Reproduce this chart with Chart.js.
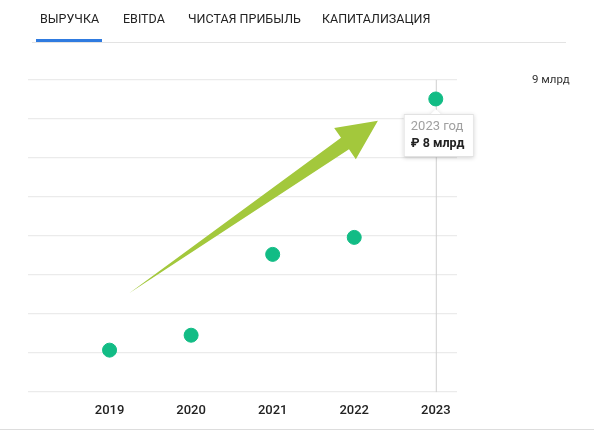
<!DOCTYPE html><html><head><meta charset="utf-8">
<script src="https://cdn.jsdelivr.net/npm/chart.js@4"></script>
<style>
body{margin:0;width:594px;height:436px;background:#fff;font-family:Roboto,sans-serif;overflow:hidden;position:relative}
.tabs{position:absolute;left:32px;top:0;width:534px;height:42px;border-bottom:1px solid #e3e3e3}
.tab{position:absolute;top:11px;font-size:12.5px;color:#222}
.ul{position:absolute;left:4px;top:39px;width:66px;height:3px;background:#2f7be0}
#wrap{position:absolute;left:0;top:-2px;width:594px;height:476px}
.bot{position:absolute;left:0;top:429px;width:594px;height:1px;background:#ddd}
</style></head><body>
<div id="wrap"><canvas id="c"></canvas></div>
<div class="tabs">
<span class="tab" style="left:8px">ВЫРУЧКА</span>
<span class="tab" style="left:91px">EBITDA</span>
<span class="tab" style="left:156px">ЧИСТАЯ ПРИБЫЛЬ</span>
<span class="tab" style="left:290px">КАПИТАЛИЗАЦИЯ</span>
<div class="ul"></div></div>
<div class="bot"></div>
<script>
const years=[2019,2020,2021,2022,2023];
const revenue=[1.21,1.64,3.97,4.46,8.45];
const yMax=9, yStep=1.125;
const tipYear=2023, tipLabel="2023 год", tipValue="₽ 8 млрд";
const arrowFrom=[2019.24,2.85], arrowTo=[2022.29,7.82];

const deco={id:'deco',
 beforeDatasetsDraw(ch){const{ctx,scales:{x,y}}=ch;
  const px=x.getPixelForValue(tipYear);
  ctx.save();ctx.strokeStyle='#cfcfcf';ctx.lineWidth=1;ctx.beginPath();ctx.moveTo(px+.5,ch.chartArea.top);ctx.lineTo(px+.5,ch.chartArea.bottom);ctx.stroke();
  const x0=x.getPixelForValue(arrowFrom[0]),y0=y.getPixelForValue(arrowFrom[1]);
  const x1=x.getPixelForValue(arrowTo[0]),y1=y.getPixelForValue(arrowTo[1]);
  const dx=x1-x0,dy=y1-y0,L=Math.hypot(dx,dy),ux=dx/L,uy=dy/L,nx=-uy,ny=ux;
  const hl=40,bx=x1-ux*hl,by=y1-uy*hl,sw=7,hw=19;
  ctx.fillStyle='#a3c83c';ctx.beginPath();ctx.moveTo(x0,y0);
  ctx.lineTo(bx+nx*sw,by+ny*sw);ctx.lineTo(bx+nx*hw,by+ny*hw);ctx.lineTo(x1,y1);
  ctx.lineTo(bx-nx*hw,by-ny*hw);ctx.lineTo(bx-nx*sw,by-ny*sw);ctx.closePath();ctx.fill();ctx.restore();},
 afterDraw(ch){const{ctx,scales:{x,y}}=ch;
  const px=x.getPixelForValue(tipYear),py=y.getPixelForValue(revenue[years.indexOf(tipYear)]);
  const bw=70,bh=43,bx=px-32,by=py+15;
  ctx.save();ctx.shadowColor='rgba(0,0,0,0.18)';ctx.shadowBlur=4;ctx.shadowOffsetY=1;
  ctx.fillStyle='#fff';ctx.beginPath();ctx.rect(bx,by,bw,bh);ctx.moveTo(px-5,by);ctx.lineTo(px,by-5);ctx.lineTo(px+5,by);ctx.fill();
  ctx.shadowColor='transparent';ctx.strokeStyle='#e2e2e2';ctx.strokeRect(bx+.5,by+.5,bw-1,bh-1);
  ctx.fillStyle='#fff';ctx.fillRect(bx+1,by+1,bw-2,bh-2);
  ctx.textBaseline='middle';ctx.fillStyle='#a0a0a0';ctx.font='13px Roboto';ctx.fillText(tipLabel,bx+7,by+13);
  ctx.fillStyle='#222';ctx.font='bold 12.5px Roboto';ctx.fillText(tipValue,bx+7,by+30);ctx.restore();}};

new Chart(document.getElementById('c'),{type:'scatter',
 data:{datasets:[{data:years.map((v,i)=>({x:v,y:revenue[i]})),backgroundColor:'#12bc85',borderColor:'#12bc85',pointRadius:7,pointHoverRadius:7}]},
 options:{responsive:true,maintainAspectRatio:false,animation:false,events:[],
  layout:{padding:{left:28,top:29,right:0,bottom:0}},
  plugins:{legend:{display:false},tooltip:{enabled:false}},
  scales:{
   x:{type:'linear',min:2018,max:2023.26,border:{display:false},grid:{display:false},
    afterBuildTicks(s){s.ticks=years.map(v=>({value:v}));},
    afterFit(s){s.height=38;},
    ticks:{padding:3,color:'#222',font:{family:'Roboto',size:13,weight:'500'},callback:v=>String(v)}},
   y:{position:'right',min:0,max:yMax,border:{display:false},
    afterBuildTicks(s){const t=[];for(let v=0;v<=yMax+1e-9;v+=yStep)t.push({value:v});s.ticks=t;},
    afterFit(s){s.width=137;},
    grid:{color:'#ebebeb',drawTicks:false,lineWidth:1.3},
    ticks:{padding:75,color:'#333',font:{family:'Roboto',size:11.5},callback:v=>Math.abs(v-yMax)<1e-6?'9 млрд':''}}}},
 plugins:[deco]});
</script></body></html>
